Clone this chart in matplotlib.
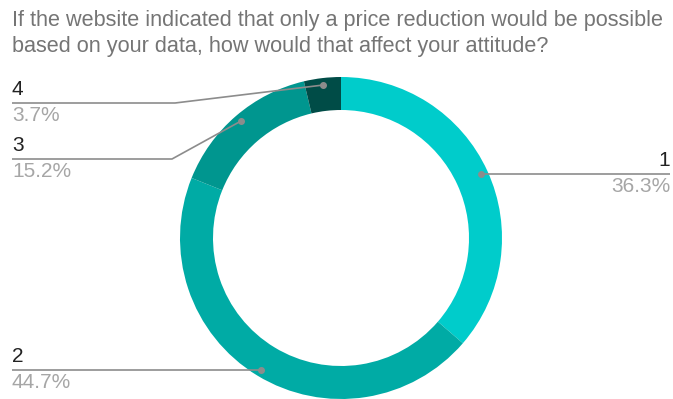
import numpy as np
import matplotlib.pyplot as plt

plt.rcParams['font.family'] = ['Liberation Sans', 'DejaVu Sans']

title = ("If the website indicated that only a price reduction would be possible\n"
         "based on your data, how would that affect your attitude?")
labels = ["1", "2", "3", "4"]
shares = [36.3, 44.7, 15.2, 3.7]
colors = ["#00cccb", "#00aba5", "#00968f", "#004c47"]

W, H = 673, 399
fig = plt.figure(figsize=(W / 100, H / 100), dpi=100)
ax = fig.add_axes([0, 0, 1, 1])
ax.set_xlim(0, W)
ax.set_ylim(0, H)
ax.set_aspect("equal")
ax.axis("off")

cx, cy = 341, H - 238
r_out, ring = 161, 33

ax.pie(shares, colors=colors, startangle=90, counterclock=False,
       radius=r_out, center=(cx, cy),
       wedgeprops=dict(width=ring, edgecolor="none", linewidth=0))
ax.set_xlim(0, W)
ax.set_ylim(0, H)

fig.text(12 / W, 1 - 10 / H, title, ha="left", va="top", fontsize=15.6,
         color="#757575", linespacing=1.3)

# leader dots sit near the outer part of the ring, at each slice's mid angle
total = sum(shares)
cum = np.cumsum([0] + shares[:-1])
mid = 90 - 360 * (cum + np.array(shares) / 2) / total
r_dot = 154
dots = [(cx + r_dot * np.cos(np.radians(a)), cy + r_dot * np.sin(np.radians(a))) for a in mid]

line_col = "#8c8c8c"
# label anchor: (text x, line y, elbow x, alignment)
anchors = {
    "1": (670, dots[0][1], None, "right"),
    "2": (12, dots[1][1], None, "left"),
    "3": (12, H - 159, 172, "left"),
    "4": (12, H - 103, 175, "left"),
}

for i, lab in enumerate(labels):
    tx, ly, elbow, ha = anchors[lab]
    dx, dy = dots[i]
    if elbow is None:
        xs, ys = [tx, dx], [ly, dy]
    else:
        xs, ys = [tx, elbow, dx], [ly, ly, dy]
    ax.plot(xs, ys, color=line_col, lw=1.2, solid_capstyle="butt", zorder=3)
    ax.plot(dx, dy, "o", color=line_col, ms=4, zorder=4)
    ax.text(tx, ly + 4, lab, ha=ha, va="bottom", fontsize=15, color="#222222")
    ax.text(tx, ly - 3, f"{shares[i]}%", ha=ha, va="top", fontsize=15, color="#a6a6a6")

fig.savefig("out.png", dpi=100)
